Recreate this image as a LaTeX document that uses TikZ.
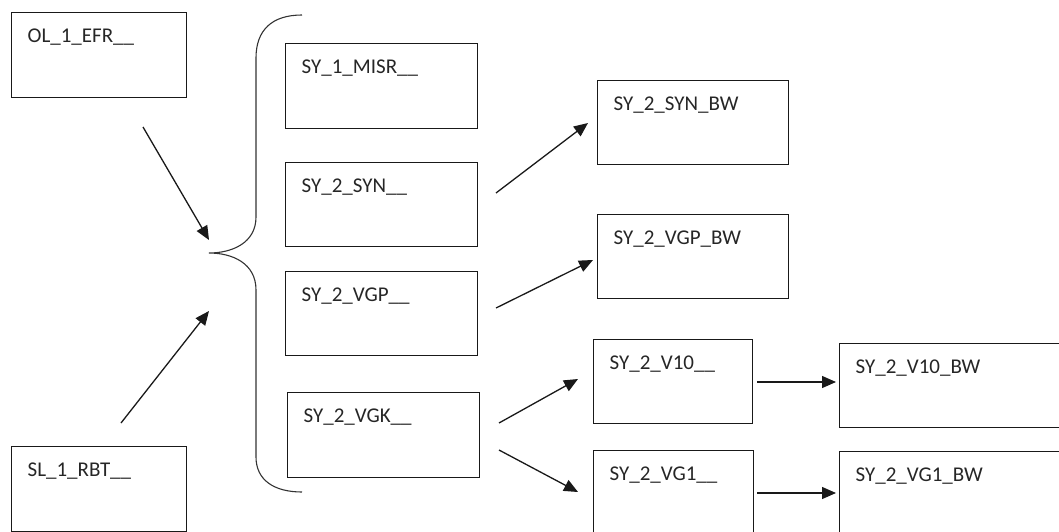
\documentclass[tikz,border=0pt]{standalone}
\usepackage{fontspec}
\setmainfont{Carlito}
\usetikzlibrary{arrows.meta}
\tikzset{
  box/.style={draw=black!90, line width=1.3pt, inner xsep=16pt, inner ysep=0pt,
    text height=30pt, align=left, anchor=north west,
    font=\fontsize{21}{25}\selectfont, text=black!85},
  conn/.style={draw=black!90, line width=1.3pt, -{Triangle[length=14pt,width=12pt]}},
  bracepath/.style={draw=black!80, line width=1.1pt}
}
\begin{document}
\begin{tikzpicture}[x=1pt,y=-1pt]
\useasboundingbox (0,0) rectangle (1059,532);
% boxes
\node[box, text width=143pt, text depth=55pt] (ol)    at (11,12)  {OL\_1\_EFR\_\_};
\node[box, text width=160pt, text depth=55pt] (misr)  at (285,43) {SY\_1\_MISR\_\_};
\node[box, text width=160pt, text depth=54pt] (syn)   at (285,162){SY\_2\_SYN\_\_};
\node[box, text width=160pt, text depth=54pt] (vgp)   at (285,271){SY\_2\_VGP\_\_};
\node[box, text width=160pt, text depth=55pt] (vgk)   at (287,392){SY\_2\_VGK\_\_};
\node[box, text width=143pt, text depth=55pt] (sl)    at (11,446) {SL\_1\_RBT\_\_};
\node[box, text width=159pt, text depth=54pt] (synbw) at (597,80) {SY\_2\_SYN\_BW};
\node[box, text width=159pt, text depth=54pt] (vgpbw) at (597,214){SY\_2\_VGP\_BW};
\node[box, text width=127pt, text depth=54pt] (v10)   at (593,339){SY\_2\_V10\_\_};
\node[box, text width=199pt, text depth=54pt] (v10bw) at (839,343){SY\_2\_V10\_BW};
\node[box, text width=128pt, text depth=70pt] (vg1)   at (593,450){SY\_2\_VG1\_\_};
\node[box, text width=199pt, text depth=70pt] (vg1bw) at (839,451){SY\_2\_VG1\_BW};
% brace
\coordinate (btop) at (302,15);
\coordinate (btip) at (209,253);
\coordinate (bbot) at (302,492);
\path[bracepath] (btop) .. controls (272,15) and (256,30) .. (256,58)
  -- (256,217) .. controls (256,243) and (232,253) .. (btip)
  .. controls (232,253) and (256,263) .. (256,290)
  -- (256,457) .. controls (256,480) and (274,492) .. (bbot);
% arrow end points
\coordinate (a1s) at (143,127); \coordinate (a1e) at (209,240);
\coordinate (a2s) at (121,423); \coordinate (a2e) at (209,311);
\coordinate (a3s) at (496,193); \coordinate (a3e) at (588,123);
\coordinate (a4s) at (496,308); \coordinate (a4e) at (593,260);
\coordinate (a5s) at (499,423); \coordinate (a5e) at (578,379);
\coordinate (a6s) at (499,450); \coordinate (a6e) at (578,492);
\coordinate (a7s) at (757,382); \coordinate (a7e) at (836,382);
\coordinate (a8s) at (757,493); \coordinate (a8e) at (836,493);
\draw[conn] (a1s) -- (a1e);
\draw[conn] (a2s) -- (a2e);
\draw[conn] (a3s) -- (a3e);
\draw[conn] (a4s) -- (a4e);
\draw[conn] (a5s) -- (a5e);
\draw[conn] (a6s) -- (a6e);
\draw[conn] (a7s) -- (a7e);
\draw[conn] (a8s) -- (a8e);
\end{tikzpicture}
\end{document}
